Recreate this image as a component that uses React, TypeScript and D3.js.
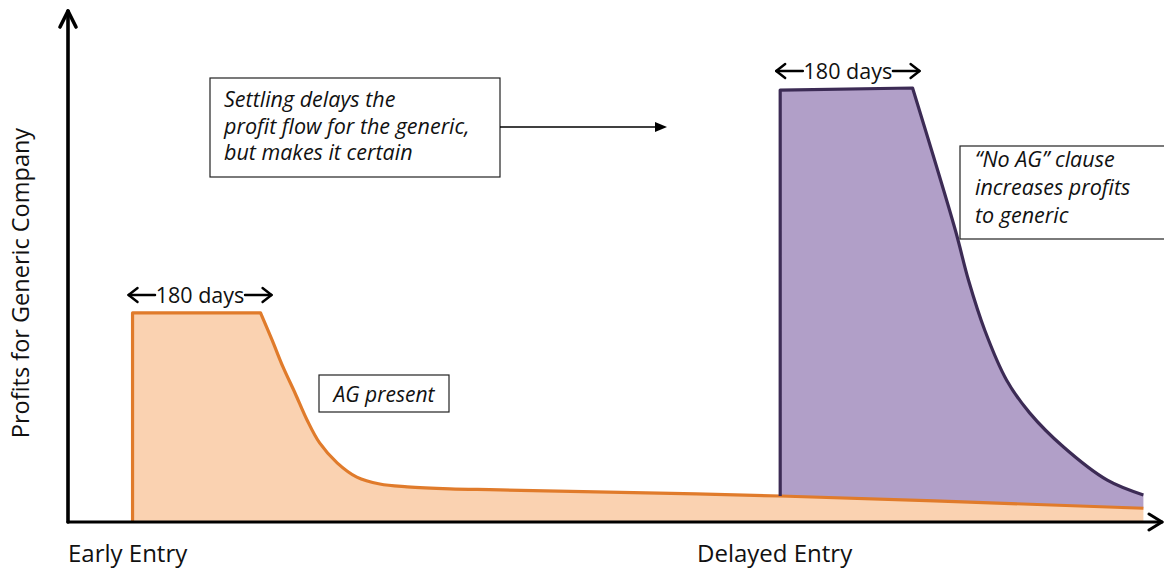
import * as d3 from "d3";

// time (arbitrary units) vs profit (arbitrary units)
const earlyT = [5.9, 17.6, 18.65, 19.65, 20.75, 21.85, 23.0, 24.6, 26.4, 28.5, 31.0, 34.9, 39.5, 65.1, 98.3];
const earlyProfit = [41, 41, 35.7, 30.4, 25.3, 20.0, 15.5, 11.6, 8.8, 7.45, 6.9, 6.5, 6.3, 5.1, 2.7];

const delayedT = [65.1, 77.2, 81.1, 82.3, 83.8, 85.8, 87.9, 91.0, 95.0, 98.3];
const delayedProfit = [84.7, 85.1, 57.3, 47.5, 37.6, 27.8, 21.4, 14.7, 8.2, 5.3];

const xLabels = ["Early Entry", "Delayed Entry"];
const xLabelAt = [0, 57.5];
const yTitle = "Profits for Generic Company";

const settleNote = ["Settling delays the", "profit flow for the generic,", "but makes it certain"];
const noAgNote = ["\u201cNo AG\u201d clause", "increases profits", "to generic"];
const agNote = "AG present";
const exclusivity = "180 days";

const width = 1164;
const height = 570;
const font = "'Open Sans', 'Noto Sans', sans-serif";

const orange = "#e07b2b";
const orangeFill = "#fad2b1";
const purple = "#3c2b55";
const purpleFill = "#b19fc8";

const x = d3.scaleLinear().domain([0, 100]).range([68, 1162]);
const y = d3.scaleLinear().domain([0, 100]).range([522, 12]);

const curve = d3
  .line<[number, number]>()
  .x((d) => x(d[0]))
  .y((d) => y(d[1]))
  .curve(d3.curveCatmullRom.alpha(0.5));

const orangeAt = (t: number) => {
  const i = Math.max(1, d3.bisectLeft(earlyT, t));
  const s = d3.scaleLinear().domain([earlyT[i - 1], earlyT[i]]).range([earlyProfit[i - 1], earlyProfit[i]]);
  return s(t);
};

const tail = (ts: number[], ps: number[]) => {
  const pts = ts.map((t, i) => [t, ps[i]] as [number, number]);
  return "L" + (curve(pts.slice(1)) || "").slice(1);
};

const Arrow = ({ x1, x2, yy }: { x1: number; x2: number; yy: number }) => {
  const dir = Math.sign(x2 - x1);
  return (
    <g stroke="#000" strokeWidth={2.4} fill="none" strokeLinecap="round" strokeLinejoin="round">
      <line x1={x1} y1={yy} x2={x2} y2={yy} />
      <path d={`M${x2 - dir * 9},${yy - 7}L${x2},${yy}L${x2 - dir * 9},${yy + 7}`} />
    </g>
  );
};

const DaysBracket = ({ a, b, yy }: { a: number; b: number; yy: number }) => {
  const mid = (a + b) / 2;
  return (
    <g>
      <Arrow x1={mid - 45} x2={a} yy={yy} />
      <Arrow x1={mid + 45} x2={b} yy={yy} />
      <text x={mid} y={yy} dy="0.36em" textAnchor="middle" fontSize={21.5} fontFamily={font} fill="#111">
        {exclusivity}
      </text>
    </g>
  );
};

export default function App() {
  const e0 = earlyT[0];
  const eEnd = earlyT[earlyT.length - 1];
  const earlyLine =
    `M${x(e0)},${y(0)}L${x(e0)},${y(earlyProfit[0])}` + tail(earlyT, earlyProfit);
  const earlyArea = earlyLine + `L${x(eEnd)},${y(0)}Z`;

  const d0 = delayedT[0];
  const dEnd = delayedT[delayedT.length - 1];
  const delayedLine =
    `M${x(d0)},${y(orangeAt(d0))}L${x(d0)},${y(delayedProfit[0])}` + tail(delayedT, delayedProfit);
  const delayedArea = delayedLine + `L${x(dEnd)},${y(orangeAt(dEnd))}Z`;

  return (
    <svg
      width={width}
      height={height}
      style={{ position: "absolute", left: 0, top: 0, background: "#fff" }}
    >
      <path d={earlyArea} fill={orangeFill} />
      <path d={delayedArea} fill={purpleFill} />
      <path d={earlyLine} fill="none" stroke={orange} strokeWidth={3.2} strokeLinejoin="round" />
      <path d={delayedLine} fill="none" stroke={purple} strokeWidth={3.2} strokeLinejoin="round" />

      {/* axes */}
      <g stroke="#000" fill="none" strokeLinecap="round" strokeLinejoin="round">
        <line x1={x(0)} y1={y(0)} x2={x(0)} y2={y(100) - 1} strokeWidth={3.6} />
        <path d={`M${x(0) - 8},${y(100) + 15}L${x(0)},${y(100) - 1}L${x(0) + 8},${y(100) + 15}`} strokeWidth={3.6} />
        <line x1={x(0)} y1={y(0)} x2={x(100)} y2={y(0)} strokeWidth={3.2} />
        <path d={`M${x(100) - 13},${y(0) - 8}L${x(100)},${y(0)}L${x(100) - 13},${y(0) + 8}`} strokeWidth={3} />
      </g>

      <text
        transform={`translate(29,${(y(0) + y(100)) / 2 + 16}) rotate(-90)`}
        textAnchor="middle"
        fontSize={23.5}
        fontFamily={font}
        fill="#111"
      >
        {yTitle}
      </text>
      {xLabels.map((l, i) => (
        <text key={l} x={x(xLabelAt[i])} y={562} fontSize={24} fontFamily={font} fill="#111">
          {l}
        </text>
      ))}

      <DaysBracket a={x(e0) - 4} b={x(earlyT[1]) + 11} yy={295} />
      <DaysBracket a={x(d0) - 4} b={x(delayedT[1]) + 7} yy={71} />

      {/* settle note */}
      <rect x={210} y={78} width={290} height={99} fill="#fff" stroke="#222" strokeWidth={1.2} />
      {settleNote.map((l, i) => (
        <text key={l} x={224} y={107 + i * 26.5} fontSize={21.5} fontStyle="italic" fontFamily={font} fill="#111">
          {l}
        </text>
      ))}
      <line x1={500} y1={127} x2={657} y2={127} stroke="#000" strokeWidth={1.5} />
      <path d="M655,122L667,127L655,132Z" fill="#000" />

      {/* no AG note */}
      <rect x={960} y={146} width={210} height={93} fill="#fff" stroke="#222" strokeWidth={1.2} />
      {noAgNote.map((l, i) => (
        <text key={l} x={975} y={167 + i * 28} fontSize={21.5} fontStyle="italic" fontFamily={font} fill="#111">
          {l}
        </text>
      ))}

      {/* AG present */}
      <rect x={319} y={375} width={130} height={37} fill="#fff" stroke="#222" strokeWidth={1.2} />
      <text x={384} y={394} dy="0.36em" textAnchor="middle" fontSize={21} fontStyle="italic" fontFamily={font} fill="#111">
        {agNote}
      </text>
    </svg>
  );
}
